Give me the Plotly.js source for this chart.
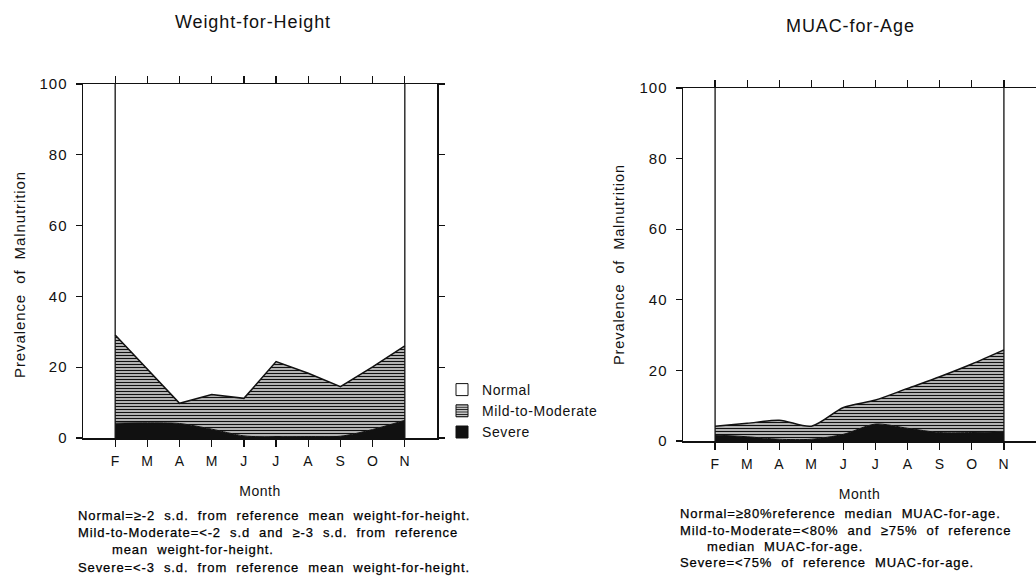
<!DOCTYPE html>
<html>
<head>
<meta charset="utf-8">
<script src="https://cdn.plot.ly/plotly-3.0.1.min.js"></script>
<style>
  html, body { margin: 0; padding: 0; background: #fff; }
  #chart { width: 1036px; height: 579px; }
  .ytick text, .y2tick text { letter-spacing: 1px; }
  .xtick text, .x2tick text { letter-spacing: 0.5px; }
  .g-xtitle text, .g-x2title text { letter-spacing: 0.5px; }
  .legendtext { letter-spacing: 0.6px; }
  .annotation-text { letter-spacing: 0.9px; }
  .annotation[data-index="4"] text, .annotation[data-index="5"] text,
  .annotation[data-index="6"] text, .annotation[data-index="7"] text,
  .annotation[data-index="8"] text, .annotation[data-index="9"] text,
  .annotation[data-index="10"] text, .annotation[data-index="11"] text { stroke: #000; stroke-width: 0.25px; }
</style>
</head>
<body>
<div id="chart"></div>
<script>
// ---- data ----
const monthNames = ['Feb','Mar','Apr','May','Jun','Jul','Aug','Sep','Oct','Nov'];
const monthLetters = ['F','M','A','M','J','J','A','S','O','N'];

// Weight-for-Height prevalence (%)
const whSevere = [4.2, 4.3, 4.1, 2.5, 0.6, 0.3, 0.4, 0.5, 2.4, 5.0];
const whMild   = [24.9, 15.2, 5.7, 9.8, 10.6, 21.3, 17.9, 14.0, 17.7, 21.0];

// MUAC-for-Age prevalence (%)
const muacSevere = [1.7, 1.2, 0.5, 0.5, 1.9, 4.8, 3.6, 2.4, 2.4, 2.6];
const muacMild   = [2.5, 3.8, 5.4, 3.7, 7.6, 6.8, 11.3, 15.8, 19.4, 23.2];

const legendNames = ['Normal', 'Mild-to-Moderate', 'Severe'];
const yTicks = [0, 20, 40, 60, 80, 100];
const yRange = [0, 100];

const titleLeft = 'Weight-for-Height';
const titleRight = 'MUAC-for-Age';
const yTitle = 'Prevalence\u00a0 of\u00a0 Malnutrition';
const xTitle = 'Month';
const notesLeft = [
  'Normal=\u2265-2\u00a0 s.d.\u00a0 from\u00a0 reference\u00a0 mean\u00a0 weight-for-height.',
  'Mild-to-Moderate=<-2\u00a0 s.d\u00a0 and\u00a0 \u2265-3\u00a0 s.d.\u00a0 from\u00a0 reference',
  'mean\u00a0 weight-for-height.',
  'Severe=<-3\u00a0 s.d.\u00a0 from\u00a0 reference\u00a0 mean\u00a0 weight-for-height.'
];
const notesRight = [
  'Normal=\u226580%reference\u00a0 median\u00a0 MUAC-for-age.',
  'Mild-to-Moderate=<80%\u00a0 and\u00a0 \u226575%\u00a0 of\u00a0 reference',
  'median\u00a0 MUAC-for-age.',
  'Severe=<75%\u00a0 of\u00a0 reference\u00a0 MUAC-for-age.'
];

// ---- styling ----
const FONT = 'Liberation Sans, Arial, Helvetica, sans-serif';
const INK = '#111';
const hatch = {shape: '-', fgcolor: INK, bgcolor: '#fff', size: 3, solidity: 0.55};

function areaTraces(sev, mild, xa, ya, group, sevShape, mildShape) {
  return [
    {x: monthNames, y: sev, xaxis: xa, yaxis: ya, stackgroup: group, type: 'scatter',
     mode: 'lines', line: {color: INK, width: 1, shape: sevShape, smoothing: 0.8},
     fillcolor: INK, showlegend: false, hoverinfo: 'skip'},
    {x: monthNames, y: mild, xaxis: xa, yaxis: ya, stackgroup: group, type: 'scatter',
     mode: 'lines', line: {color: INK, width: 1.5, shape: mildShape, smoothing: 0.8},
     fillcolor: '#fff', fillpattern: hatch, showlegend: false, hoverinfo: 'skip'}
  ];
}
function edgeTraces(xa, ya) {
  const first = monthNames[0], last = monthNames[monthNames.length - 1];
  return [first, last].map(m => ({
    x: [m, m], y: yRange, xaxis: xa, yaxis: ya, type: 'scatter', mode: 'lines',
    line: {color: INK, width: 1.3}, showlegend: false, hoverinfo: 'skip'
  }));
}

const legendStyles = [
  {color: '#fff', line: {color: INK, width: 1}},
  {color: '#fff', line: {color: INK, width: 1}, pattern: {shape: '-', fgcolor: INK, bgcolor: '#fff', size: 3, solidity: 0.5}},
  {color: INK, line: {color: INK, width: 1}}
];
const legendTraces = legendNames.map((n, i) => ({
  type: 'bar', x: [null], y: [null], name: n, xaxis: 'x', yaxis: 'y',
  marker: legendStyles[i], showlegend: true, hoverinfo: 'skip'
}));

const data = [
  ...areaTraces(whSevere, whMild, 'x', 'y', 'wh', 'spline', 'linear'),
  ...edgeTraces('x', 'y'),
  ...areaTraces(muacSevere, muacMild, 'x2', 'y2', 'muac', 'spline', 'spline'),
  ...edgeTraces('x2', 'y2'),
  ...legendTraces
];

const W = 1036, H = 579;
const px = v => v / W;
const py = v => 1 - v / H;

function xAxis(domain, anchor) {
  return {
    domain: domain, anchor: anchor, type: 'category',
    categoryorder: 'array', categoryarray: monthNames,
    range: [-1, monthNames.length],
    tickmode: 'array', tickvals: monthNames, ticktext: monthLetters,
    ticks: 'outside', ticklen: 7, tickwidth: 1.2, tickcolor: INK, ticklabelstandoff: 3,
    showline: true, linecolor: INK, linewidth: 1.5, mirror: 'ticks',
    showgrid: false, zeroline: false, fixedrange: true,
    tickfont: {family: FONT, size: 14, color: INK},
    title: {text: xTitle, font: {family: FONT, size: 14, color: INK}, standoff: 18}
  };
}
function yAxis(domain, anchor) {
  return {
    domain: domain, anchor: anchor, range: yRange,
    tickmode: 'array', tickvals: yTicks,
    ticks: 'outside', ticklen: 6, tickwidth: 1.2, tickcolor: INK, ticklabelstandoff: 5,
    showline: true, linecolor: INK, linewidth: 1.5, mirror: 'ticks',
    showgrid: false, zeroline: false, fixedrange: true,
    tickfont: {family: FONT, size: 15, color: INK}
  };
}

const annotations = [];
function note(text, x, y, opts) {
  annotations.push(Object.assign({text: text, x: px(x), y: py(y), xref: 'paper', yref: 'paper',
    xanchor: 'center', yanchor: 'middle', showarrow: false}, opts));
}
// 0,1: panel titles
note(titleLeft, 253, 22, {font: {family: FONT, size: 18, color: INK}});
note(titleRight, 850, 26, {font: {family: FONT, size: 18, color: INK}});
// 2,3: y-axis titles
note(yTitle, 19, 275, {textangle: -90, font: {family: FONT, size: 15, color: INK}});
note(yTitle, 619, 265, {textangle: -90, font: {family: FONT, size: 14.5, color: INK}});
// 4..11: footnotes
const leftYs = [515, 532, 549, 567];
const rightYs = [513, 530, 546, 562];
notesLeft.forEach((t, i) => note(t, i === 2 ? 110 : 76, leftYs[i],
  {xanchor: 'left', font: {family: FONT, size: 13, color: '#000'}}));
notesRight.forEach((t, i) => note(t, i === 2 ? 705 : 678, rightYs[i],
  {xanchor: 'left', font: {family: FONT, size: 13, color: '#000'}}));

const layout = {
  width: W, height: H,
  margin: {l: 0, r: 0, t: 0, b: 0},
  paper_bgcolor: '#fff', plot_bgcolor: '#fff',
  font: {family: FONT, color: INK},
  showlegend: true,
  legend: {x: px(442), y: py(374), xanchor: 'left', yanchor: 'top', traceorder: 'normal',
    font: {family: FONT, size: 14, color: INK}, bgcolor: 'rgba(0,0,0,0)',
    itemwidth: 30, tracegroupgap: 0},
  xaxis: xAxis([px(83), px(437)], 'y'),
  yaxis: yAxis([1 - 438 / H, 1 - 84 / H], 'x'),
  xaxis2: xAxis([px(683), 1], 'y2'),
  yaxis2: yAxis([1 - 441 / H, 1 - 88 / H], 'x2'),
  annotations: annotations
};

Plotly.newPlot('chart', data, layout, {displayModeBar: false, staticPlot: true});
</script>
</body>
</html>
